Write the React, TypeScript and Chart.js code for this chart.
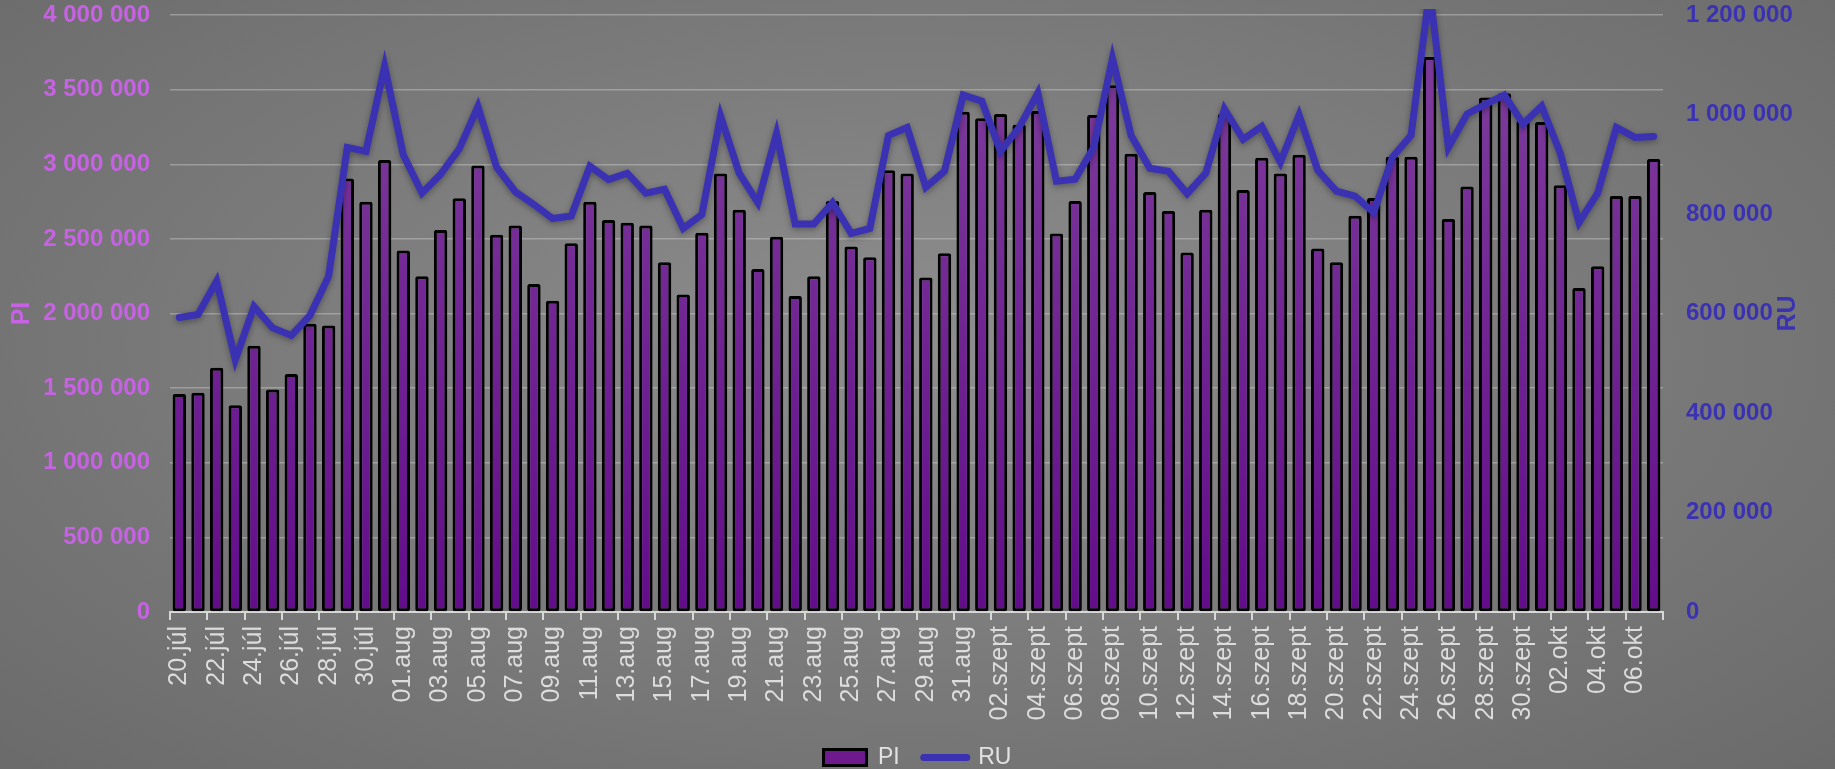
import React, { useEffect, useRef } from 'react';
import { Chart, registerables } from 'chart.js';

Chart.register(...registerables);

const categories = [
  '20.júl', '21.júl', '22.júl', '23.júl', '24.júl', '25.júl', '26.júl', '27.júl', '28.júl', '29.júl', '30.júl', '31.júl',
  '01.aug', '02.aug', '03.aug', '04.aug', '05.aug', '06.aug', '07.aug', '08.aug', '09.aug', '10.aug', '11.aug', '12.aug',
  '13.aug', '14.aug', '15.aug', '16.aug', '17.aug', '18.aug', '19.aug', '20.aug', '21.aug', '22.aug', '23.aug', '24.aug',
  '25.aug', '26.aug', '27.aug', '28.aug', '29.aug', '30.aug', '31.aug',
  '01.szept', '02.szept', '03.szept', '04.szept', '05.szept', '06.szept', '07.szept', '08.szept', '09.szept', '10.szept',
  '11.szept', '12.szept', '13.szept', '14.szept', '15.szept', '16.szept', '17.szept', '18.szept', '19.szept', '20.szept',
  '21.szept', '22.szept', '23.szept', '24.szept', '25.szept', '26.szept', '27.szept', '28.szept', '29.szept', '30.szept',
  '01.okt', '02.okt', '03.okt', '04.okt', '05.okt', '06.okt', '07.okt',
];

const piValues = [
  1461000, 1469000, 1636000, 1385000, 1784000, 1490000, 1594000, 1932000, 1919000, 2904000, 2748000, 3028000,
  2422000, 2250000, 2560000, 2772000, 2991000, 2528000, 2589000, 2197000, 2086000, 2470000, 2748000, 2626000,
  2608000, 2589000, 2343000, 2128000, 2541000, 2938000, 2695000, 2298000, 2515000, 2118000, 2250000, 2753000,
  2449000, 2377000, 2960000, 2938000, 2242000, 2404000, 3351000,
  3309000, 3336000, 3264000, 3357000, 2536000, 2753000, 3330000, 3530000, 3071000, 2814000,
  2687000, 2409000, 2695000, 3336000, 2827000, 3044000, 2938000, 3063000, 2435000, 2343000,
  2655000, 2774000, 3050000, 3050000, 3719000, 2634000, 2851000, 3447000, 3476000, 3291000,
  3283000, 2859000, 2171000, 2316000, 2788000, 2788000, 3036000,
];

const ruValues = [
  592000, 598000, 665000, 507000, 614000, 571000, 556000, 596000, 675000, 934000, 926000, 1097000,
  919000, 842000, 880000, 931000, 1016000, 894000, 845000, 819000, 791000, 796000, 896000, 869000,
  882000, 842000, 850000, 771000, 799000, 997000, 882000, 823000, 962000, 780000, 780000, 823000,
  761000, 771000, 958000, 974000, 854000, 886000, 1039000,
  1027000, 926000, 974000, 1043000, 866000, 870000, 934000, 1113000, 958000, 892000,
  886000, 841000, 882000, 1011000, 950000, 976000, 904000, 999000, 888000, 846000,
  836000, 803000, 914000, 958000, 1250000, 934000, 1001000, 1021000, 1039000, 981000,
  1017000, 922000, 783000, 842000, 974000, 954000, 956000,
];

const piAxis = { min: 0, max: 4000000, step: 500000 };
const ruAxis = { min: 0, max: 1200000, step: 200000 };

const FONT = '"Liberation Sans", Arial, Helvetica, sans-serif';
const PI_COLOR = '#c862e4';
const RU_COLOR = '#3b31b3';
const XLABEL_COLOR = '#dcdcdc';
const LEGEND_COLOR = '#e2e2e2';
const BAR_FILL = '#6e1a8e';

const fmt = (v: number) => String(v).replace(/\B(?=(\d{3})+(?!\d))/g, ' ');

const axisTitlePlugin = {
  id: 'axisTitlePlugin',
  afterDraw(chart: any) {
    const { ctx, chartArea } = chart;
    const midY = (chartArea.top + chartArea.bottom) / 2;
    ctx.save();
    ctx.font = `bold 25px ${FONT}`;
    ctx.textAlign = 'center';
    ctx.textBaseline = 'alphabetic';
    const draw = (t: string, x: number, c: string) => {
      ctx.save();
      ctx.translate(x, midY);
      ctx.rotate(-Math.PI / 2);
      ctx.fillStyle = c;
      ctx.fillText(t, 0, 0);
      ctx.restore();
    };
    draw('PI', 29, PI_COLOR);
    draw('RU', chart.width - 40, RU_COLOR);
    ctx.restore();
  },
};

const lineShadowPlugin = {
  id: 'lineShadowPlugin',
  beforeDatasetDraw(chart: any, args: any) {
    if (args.index === 1) {
      const ctx = chart.ctx;
      ctx.save();
      ctx.shadowColor = 'rgba(0,0,0,0.35)';
      ctx.shadowBlur = 6;
      ctx.shadowOffsetY = 2;
    }
  },
  afterDatasetDraw(chart: any, args: any) {
    if (args.index === 1) chart.ctx.restore();
  },
};

let gradCache: any = null;
const barFill = (c: any) => {
  const chart = c.chart;
  const area = chart.chartArea;
  if (!area) return BAR_FILL;
  if (!gradCache || gradCache.h !== area.bottom) {
    const g = chart.ctx.createLinearGradient(0, area.top, 0, area.bottom);
    g.addColorStop(0, '#80409d');
    g.addColorStop(1, '#620c8a');
    gradCache = { g, h: area.bottom };
  }
  return gradCache.g;
};

export default function App() {
  const ref = useRef<HTMLCanvasElement | null>(null);

  useEffect(() => {
    if (!ref.current) return;
    const chart = new Chart(ref.current, {
      type: 'bar',
      data: {
        labels: categories,
        datasets: [
          {
            type: 'bar',
            label: 'PI',
            data: piValues,
            yAxisID: 'y',
            backgroundColor: barFill,
            borderColor: '#000000',
            borderWidth: 3,
            borderSkipped: false,
            borderRadius: 2,
            barPercentage: 0.72,
            categoryPercentage: 1,
            order: 1,
          },
          {
            type: 'line',
            label: 'RU',
            data: ruValues,
            yAxisID: 'y1',
            borderColor: RU_COLOR,
            backgroundColor: RU_COLOR,
            borderWidth: 7,
            pointRadius: 0,
            pointHoverRadius: 0,
            tension: 0,
            borderJoinStyle: 'miter',
            borderCapStyle: 'round',
            clip: 6,
            order: 0,
          } as any,
        ],
      },
      options: {
        responsive: false,
        animation: false,
        devicePixelRatio: 1,
        layout: { padding: { top: 15, left: 0, right: 0, bottom: 0 } },
        plugins: {
          tooltip: { enabled: false },
          legend: {
            display: true,
            position: 'bottom',
            labels: {
              usePointStyle: true,
              pointStyleWidth: 43,
              boxHeight: 16,
              padding: 24,
              color: LEGEND_COLOR,
              font: { family: FONT, size: 23 },
              generateLabels: () => [
                {
                  text: 'PI',
                  fillStyle: BAR_FILL,
                  strokeStyle: '#000000',
                  lineWidth: 3,
                  pointStyle: 'rect',
                  fontColor: LEGEND_COLOR,
                  hidden: false,
                  datasetIndex: 0,
                } as any,
                {
                  text: 'RU',
                  fillStyle: RU_COLOR,
                  strokeStyle: RU_COLOR,
                  lineWidth: 7,
                  lineCap: 'round',
                  pointStyle: 'line',
                  fontColor: LEGEND_COLOR,
                  hidden: false,
                  datasetIndex: 1,
                } as any,
              ],
            },
          },
        },
        scales: {
          x: {
            offset: true,
            grid: {
              display: true,
              offset: true,
              drawOnChartArea: false,
              drawTicks: true,
              tickLength: 8,
              lineWidth: 2,
              color: (c: any) =>
                c.index === undefined || c.index % 2 === 0 ? '#d8d8d8' : 'rgba(0,0,0,0)',
            },
            border: { display: true, color: '#d8d8d8', width: 2 },
            ticks: {
              autoSkip: false,
              minRotation: 90,
              maxRotation: 90,
              padding: 6,
              color: XLABEL_COLOR,
              font: { family: FONT, size: 25 },
              callback: (_v: any, i: number) => (i % 2 === 0 ? categories[i] : ''),
            },
            afterFit: (s: any) => {
              s.height = 110;
            },
          },
          y: {
            position: 'left',
            min: piAxis.min,
            max: piAxis.max,
            grid: {
              display: true,
              drawTicks: false,
              color: 'rgba(205,205,205,0.45)',
              lineWidth: 1.5,
            },
            border: { display: false },
            ticks: {
              stepSize: piAxis.step,
              padding: 20,
              color: PI_COLOR,
              font: { family: FONT, size: 24, weight: 'bold' },
              callback: (v: any) => fmt(Number(v)),
            },
            afterFit: (s: any) => {
              s.width = 170;
              s.paddingTop = 10;
              s.paddingBottom = 10;
            },
          },
          y1: {
            position: 'right',
            min: ruAxis.min,
            max: ruAxis.max,
            grid: { display: false, drawTicks: false },
            border: { display: false },
            ticks: {
              stepSize: ruAxis.step,
              padding: 23,
              color: RU_COLOR,
              font: { family: FONT, size: 24, weight: 'bold' },
              callback: (v: any) => fmt(Number(v)),
            },
            afterFit: (s: any) => {
              s.width = 172;
              s.paddingTop = 10;
              s.paddingBottom = 10;
            },
          },
        },
      } as any,
      plugins: [axisTitlePlugin, lineShadowPlugin],
    });
    return () => {
      chart.destroy();
    };
  }, []);

  return (
    <div
      style={{
        position: 'fixed',
        left: 0,
        top: 0,
        width: 1835,
        height: 779,
        overflow: 'hidden',
        background:
          'radial-gradient(ellipse at 50% 45%, #8e8e8e 0%, #7d7d7d 45%, #6a6a6a 100%)',
      }}
    >
      <canvas ref={ref} width={1835} height={779} style={{ display: 'block' }} />
    </div>
  );
}
